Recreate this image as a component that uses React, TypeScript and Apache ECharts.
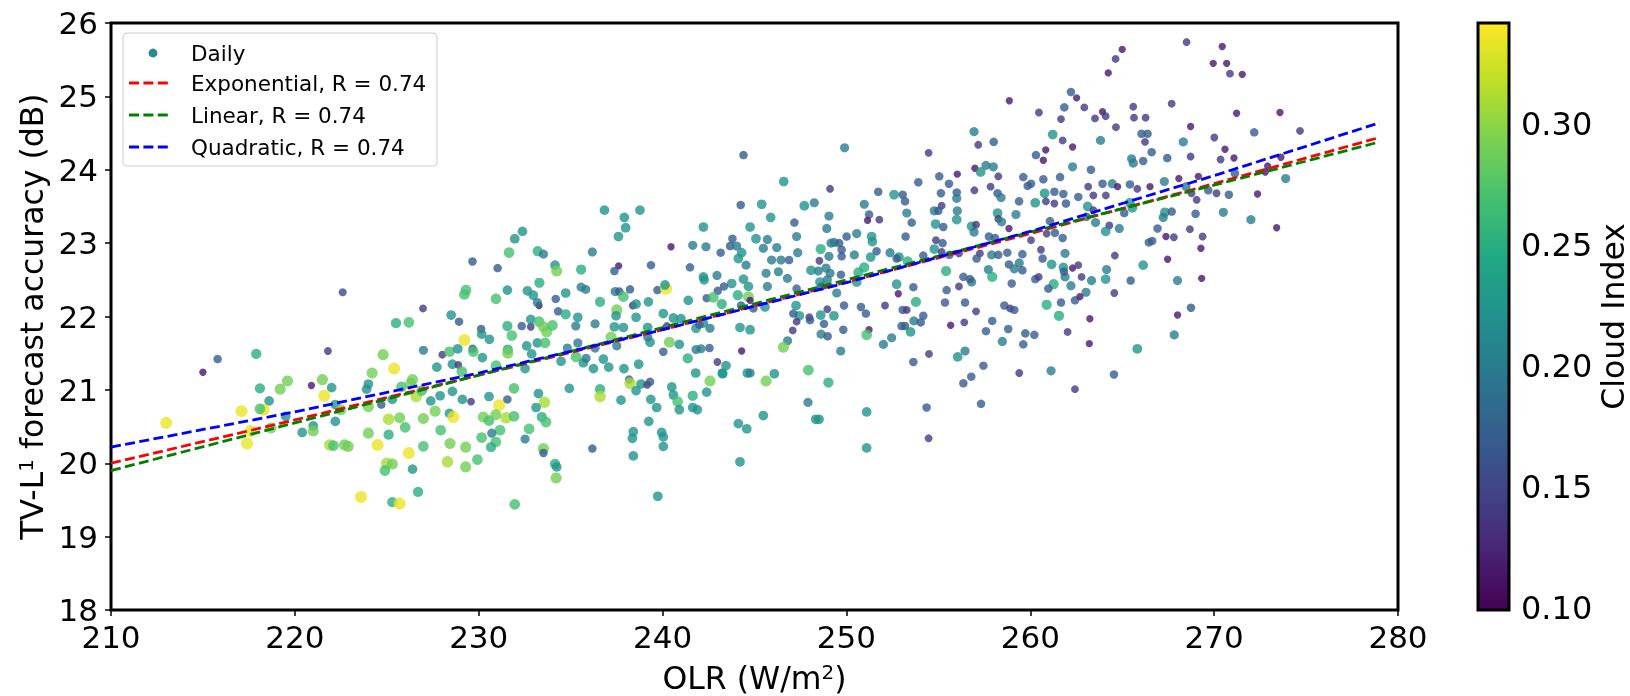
import React, { useEffect, useRef } from 'react';
import * as echarts from 'echarts';

const FONT = 'DejaVu Sans';

// Axis ranges / ticks
const X_MIN = 210;
const X_MAX = 280;
const X_STEP = 10;
const Y_MIN = 18;
const Y_MAX = 26;
const Y_STEP = 1;
const CLOUD_MIN = 0.099;
const CLOUD_MAX = 0.342;
const CLOUD_TICKS = [0.1, 0.15, 0.2, 0.25, 0.3];

// viridis colour scale
const VIRIDIS = ['#440154', '#482475', '#414487', '#355f8d', '#2a788e', '#21918c', '#22a884', '#44bf70', '#7ad151', '#bddf26', '#fde725'];

// Fitted curves
const FIT_X = [210, 220, 230, 240, 250, 260, 270, 279];
const FIT_EXPONENTIAL = [20.0, 20.59, 21.2, 21.82, 22.47, 23.13, 23.81, 24.44];
const FIT_LINEAR = [19.9, 20.55, 21.2, 21.85, 22.5, 23.15, 23.79, 24.38];
const FIT_QUADRATIC = [20.22, 20.7, 21.23, 21.82, 22.46, 23.16, 23.92, 24.64];

// Daily points: [OLR, accuracy, cloud index]
const DAILY: number[][] = [
[215.0,21.24,.115],[215.8,21.42,.17],[217.9,21.49,.25],[218.1,21.02,.25],[218.6,20.85,.225],[219.2,21.01,.29],[219.6,21.12,.29],[217.1,20.71,.335],[218.3,20.73,.335],[218.1,20.74,.27],[213.0,20.55,.335],[217.6,20.44,.335],[218.7,20.48,.29],[217.4,20.27,.335],[219.5,20.64,.225],[220.4,20.42,.225],[221.0,20.51,.225],[221.0,20.44,.29],[221.5,21.14,.29],[221.8,21.53,.14],[220.9,21.06,.115],[222.0,21.03,.225],[221.6,20.92,.335],[222.2,20.80,.225],[222.2,20.57,.225],[222.5,20.73,.29],[221.9,20.25,.31],[222.1,20.24,.27],[222.7,20.25,.29],[222.9,20.23,.29],[224.0,20.41,.29],[224.5,20.25,.335],[225.1,20.60,.31],[225.1,20.39,.25],[225.7,20.62,.29],[226.0,20.49,.27],[226.2,20.14,.335],[226.4,19.92,.225],[225.0,20.00,.31],[225.3,19.99,.29],[224.9,19.90,.27],[223.6,19.54,.335],[225.3,19.47,.25],[225.7,19.45,.335],[226.7,19.61,.25],[224.8,21.48,.29],[224.2,21.23,.29],[225.4,21.29,.335],[225.5,21.91,.25],[226.2,21.92,.27],[224.0,21.08,.225],[223.9,21.01,.225],[224.7,20.80,.17],[225.3,20.87,.225],[225.8,21.04,.27],[226.4,21.14,.29],[226.3,21.09,.29],[226.6,20.91,.31],[226.9,20.99,.27],[224.0,20.77,.29],
[222.6,22.33,.15],[244.4,24.20,.17],
[236.84,23.45,.225],[238.77,23.45,.225],[244.25,23.52,.17],[237.92,23.35,.225],[237.99,23.21,.225],[237.60,23.09,.225],[242.22,23.22,.225],[232.38,23.16,.225],[231.96,23.06,.225],[231.65,22.87,.27],[233.21,22.89,.25],[233.52,22.85,.2],[236.18,22.88,.2],[229.66,22.75,.17],[231.03,22.66,.17],[234.15,22.70,.225],[234.24,22.62,.29],[235.57,22.64,.25],[237.61,22.69,.115],[237.38,22.62,.17],[239.37,22.70,.17],[240.46,22.95,.115],[241.64,22.97,.2],[242.36,22.95,.2],[241.49,22.67,.17],[243.16,22.87,.17],[243.80,23.06,.17],[243.67,22.96,.17],[244.03,22.96,.2],[244.30,22.87,.225],[244.12,22.79,.225],[244.54,22.70,.2],[242.22,22.54,.225],[242.26,22.50,.225],[242.96,22.56,.2],[243.76,22.45,.225],[244.40,22.51,.225],[243.34,22.41,.17],[243.00,22.35,.17],[244.67,22.41,.225],
[229.31,22.36,.27],[229.22,22.30,.27],[230.94,22.24,.27],[231.56,22.36,.225],[232.65,22.35,.225],[232.97,22.29,.225],[233.30,22.46,.25],[233.28,22.15,.115],[233.19,22.19,.2],[234.19,22.24,.17],[234.73,22.32,.225],[235.57,22.40,.2],[235.82,22.37,.2],[236.60,22.20,.25],[237.42,22.34,.2],[237.65,22.34,.17],[237.87,22.27,.27],[238.23,22.37,.17],[238.38,22.15,.14],[238.56,22.17,.225],[239.23,22.20,.225],[239.72,22.36,.17],[240.19,22.38,.335],[240.13,22.43,.225],[241.40,22.22,.225],[242.40,22.25,.17],[242.76,22.26,.27],[243.22,22.17,.25],[244.09,22.29,.25],[244.27,22.15,.17],[244.67,22.27,.29],[244.76,22.22,.115],
[228.50,22.02,.225],[228.93,21.93,.17],[230.13,21.83,.17],[230.16,21.76,.225],[230.58,21.69,.225],[231.80,21.74,.27],[231.56,21.87,.25],[232.34,21.87,.17],[232.83,21.86,.14],[232.83,21.96,.225],[233.28,21.93,.27],[233.52,21.86,.29],[233.70,21.79,.29],[234.01,21.88,.27],[234.32,22.07,.17],[234.73,22.03,.25],[235.28,21.87,.2],[235.39,21.99,.225],[236.33,21.90,.2],[237.51,22.09,.29],[237.47,22.01,.225],[237.38,21.86,.225],[237.87,21.85,.225],[238.56,21.99,.225],[239.19,21.85,.225],[240.04,22.04,.225],[240.23,21.87,.14],[240.59,21.98,.225],[241.00,21.97,.225],[242.22,21.91,.225],[241.82,21.84,.225],[242.00,21.89,.17],[242.58,21.84,.2],[244.21,21.85,.225],[244.76,21.82,.225],
[226.97,22.11,.14],[226.99,21.54,.2],[228.02,21.48,.14],[228.41,21.52,.27],[228.86,21.56,.225],[229.22,21.68,.335],[229.67,21.56,.17],[229.71,21.52,.27],[230.20,21.44,.225],[231.58,21.55,.25],[231.58,21.50,.29],[232.61,21.60,.225],[232.88,21.49,.225],[233.19,21.64,.225],[233.61,21.64,.27],[234.82,21.57,.2],[235.39,21.64,.2],[235.29,21.45,.27],[235.69,21.37,.225],[235.84,21.43,.2],[236.24,21.29,.225],[236.33,21.57,.2],[236.78,21.42,.225],[237.07,21.31,.225],[237.20,21.72,.29],[237.51,21.60,.2],[237.90,21.29,.225],[238.70,21.35,.225],[239.32,21.65,.225],[239.19,21.72,.2],[240.04,21.52,.17],[240.37,21.65,.29],[240.91,21.62,.225],[241.37,21.43,.25],[241.82,21.55,.2],[242.09,21.56,.2],[242.55,21.57,.17],[242.98,21.38,.14],[243.45,21.33,.225],[243.27,21.22,.225],[244.30,21.53,.115],[244.61,21.23,.225],
[227.72,21.31,.225],[228.57,21.35,.225],[228.89,21.34,.14],[229.08,21.25,.27],[230.94,21.33,.27],[232.52,21.29,.225],[234.48,21.39,.225],[234.93,21.02,.225],[236.60,21.01,.25],[236.60,20.91,.31],[237.74,20.86,.225],[238.18,21.14,.17],[238.23,21.09,.31],[238.56,20.99,.225],[238.83,21.08,.225],[239.17,21.07,.14],[239.32,21.11,.17],[239.36,20.87,.225],[239.68,20.76,.225],[240.50,21.04,.225],[240.59,20.93,.225],[240.82,20.84,.27],[240.91,20.73,.225],[241.64,20.92,.25],[241.64,20.76,.225],[241.89,20.73,.225],[241.80,21.23,.225],[242.40,20.97,.225],[242.58,21.12,.29],[243.25,21.23,.225],
[227.39,20.85,.225],[227.90,20.92,.225],[228.57,20.98,.225],[229.11,20.87,.225],[229.58,20.84,.14],[230.56,20.91,.225],[231.11,20.79,.335],[231.56,20.87,.17],[231.92,21.02,.27],[233.25,20.95,.225],[233.57,20.83,.31],[233.12,20.76,.225],[227.63,20.71,.29],[226.99,20.61,.29],[228.41,20.68,.225],[228.62,20.63,.335],[230.25,20.63,.29],[230.56,20.58,.27],[230.93,20.66,.29],[231.49,20.62,.31],[231.92,20.64,.27],[233.43,20.63,.25],[233.66,20.56,.27],[231.16,20.45,.27],[230.71,20.41,.2],[230.16,20.35,.27],[230.93,20.29,.27],[230.67,20.22,.25],[227.93,20.45,.27],[228.44,20.27,.29],[229.29,20.22,.29],[226.99,20.23,.27],[232.52,20.33,.2],[232.74,20.47,.27],[233.52,20.20,.29],[233.52,20.14,.17],[228.30,20.02,.31],[229.29,19.95,.29],[229.93,20.05,.27],[234.15,19.99,.25],[234.24,19.95,.225],[234.21,19.80,.29],[236.18,20.20,.17],[238.41,20.43,.225],[238.36,20.34,.225],[238.41,20.10,.225],[239.25,20.57,.225],[239.95,20.42,.225],[240.04,20.36,.225],[240.04,20.23,.225],[244.12,20.54,.225],[244.58,20.47,.225],[244.21,20.02,.225],[239.74,19.55,.225],[231.96,19.44,.27],
[262.21,25.06,.17],[262.52,24.98,.115],[258.86,24.94,.115],[261.85,24.85,.17],[260.47,24.78,.14],[261.67,24.69,.14],[261.22,24.48,.225],[256.94,24.52,.2],[261.76,24.40,.14],[257.17,24.34,.14],[258.01,24.38,.17],[262.30,24.31,.115],[260.84,24.27,.115],[260.31,24.20,.17],[260.71,24.13,.115],[249.90,24.30,.2],[254.47,24.23,.14],[262.30,24.04,.2],[256.99,24.02,.115],[257.59,24.06,.2],[257.99,24.04,.2],[257.30,23.97,.225],[258.26,23.91,.14],[256.03,23.94,.115],[255.05,23.91,.17],[259.62,23.90,.17],[260.71,23.87,.17],[261.62,23.90,.17],[260.04,23.81,.17],[259.86,23.78,.17],[257.84,23.77,.14],[253.91,23.83,.17],[255.58,23.81,.17],[249.11,23.74,.14],[251.73,23.70,.17],[246.59,23.84,.225],
[255.14,23.68,.17],[256.00,23.69,.17],[256.96,23.72,.14],[258.22,23.68,.17],[258.41,23.62,.2],[260.78,23.68,.225],[261.31,23.70,.17],[261.80,23.67,.17],[262.61,23.63,.17],[252.59,23.66,.225],[253.06,23.66,.17],[253.19,23.57,.17],[256.00,23.61,.2],[259.39,23.57,.17],[260.27,23.55,.225],[260.85,23.57,.14],[261.31,23.54,.14],[261.94,23.54,.17],[245.39,23.53,.225],[247.71,23.51,.225],[248.25,23.55,.2],[250.97,23.53,.2],[253.28,23.41,.2],[255.18,23.51,.14],[254.78,23.44,.2],[255.00,23.44,.17],[256.03,23.44,.2],[258.22,23.41,.225],[259.22,23.39,.2],
[245.88,23.35,.225],[249.05,23.37,.2],[251.23,23.39,.17],[251.15,23.31,.115],[251.79,23.32,.14],[253.55,23.28,.17],[256.00,23.32,.225],[258.26,23.33,.14],[258.44,23.29,.2],[256.81,23.23,.225],[257.05,23.25,.14],[256.94,23.15,.2],[254.85,23.26,.225],[255.27,23.22,.17],[258.84,23.20,.115],[261.07,23.30,.17],[247.17,23.28,.17],[244.76,23.22,.225],[248.93,23.20,.2],
[245.08,23.06,.225],[245.70,23.05,.2],[247.29,23.09,.2],[250.56,23.13,.2],[250.01,23.09,.17],[251.37,23.09,.225],[251.41,23.02,.225],[253.22,23.09,.17],[254.87,23.04,.14],[255.23,23.00,.17],[257.75,23.09,.17],[258.08,23.07,.17],[260.04,23.04,.14],[260.89,23.13,.14],[261.34,23.14,.17],[261.76,23.07,.17],
[245.48,22.93,.2],[246.21,22.94,.2],[248.60,22.92,.25],[249.16,23.00,.2],[249.34,23.01,.2],[249.61,23.00,.17],[249.74,22.91,.17],[250.43,22.84,.2],[251.64,22.89,.17],[252.37,22.87,.2],[252.86,22.81,.225],[253.33,22.75,.25],[254.18,22.83,.17],[254.78,22.92,.225],[255.18,22.88,.14],[255.60,22.84,.17],[256.12,22.86,.14],[257.26,22.86,.14],[257.90,22.84,.2],[258.26,22.84,.17],[258.75,22.87,.17],[259.57,22.85,.17],[260.58,22.91,.14],[261.89,22.86,.2],
[245.93,22.77,.2],[246.44,22.77,.2],[246.88,22.77,.17],[247.35,22.87,.2],[248.53,22.76,.14],[249.05,22.82,.2],[249.74,22.82,.17],[251.32,22.81,.225],[252.73,22.79,.17],[257.08,22.79,.17],[258.84,22.71,.17],[259.40,22.73,.2],[259.57,22.63,.17],[259.13,22.65,.2],[260.67,22.79,.17],[261.16,22.71,.225],[261.80,22.67,.225],[262.30,22.66,.115],[262.61,22.70,.14],
[245.63,22.59,.2],[246.30,22.61,.2],[246.79,22.52,.2],[248.07,22.63,.225],[248.47,22.62,.2],[248.89,22.66,.2],[249.11,22.59,.2],[249.70,22.57,.17],[250.65,22.60,.25],[250.97,22.67,.25],[255.42,22.62,.25],[256.36,22.54,.17],[257.72,22.64,.2],[257.93,22.54,.25],[256.81,22.47,.2],[256.72,22.51,.17],[260.27,22.51,.17],[260.46,22.54,.14],[261.89,22.54,.2],[261.83,22.61,.17],[258.99,22.45,.17],[261.27,22.44,.25],[260.98,22.38,.17],[262.21,22.42,.2],[245.70,22.41,.2],[247.29,22.38,.17],[248.56,22.47,.225],[248.96,22.50,.2],[248.65,22.41,.17],[250.56,22.47,.225],[252.73,22.44,.225],[253.64,22.40,.17],[256.12,22.41,.14],
[249.47,22.32,.2],[252.82,22.31,.115],[255.45,22.36,.17],[262.43,22.22,.17],[261.67,22.19,.17],[260.89,22.16,.25],[261.56,22.01,.25],[253.78,22.20,.25],[255.36,22.19,.17],[256.45,22.19,.17],[252.10,22.15,.14],[250.79,22.13,.17],[251.06,22.04,.17],[249.87,22.15,.17],[248.96,22.10,.14],[248.60,22.02,.225],[249.32,22.01,.225],[247.98,21.99,.14],[248.02,21.95,.17],[247.44,22.01,.225],[247.26,22.15,.225],[247.11,22.04,.17],[247.29,21.93,.14],[245.57,22.13,.225],[244.94,22.11,.17],
[248.78,21.90,.17],[249.83,21.82,.17],[248.62,21.76,.2],[248.98,21.73,.17],[251.23,21.82,.115],[251.10,21.75,.27],[253.06,22.09,.17],[253.28,22.09,.14],[253.00,21.87,.17],[253.19,21.87,.17],[253.49,21.79,.225],[253.67,21.94,.2],[254.04,21.92,.17],[254.18,22.01,.17],[252.01,21.62,.2],[252.46,21.71,.2],[255.67,21.88,.115],[256.41,21.92,.14],[257.05,22.07,.14],[257.93,21.94,.17],[257.59,21.80,.17],[258.80,21.83,.17],[258.59,22.15,.17],[258.90,22.11,.14],[259.13,22.09,.17],[258.48,21.66,.2],[259.73,21.77,.17],[260.22,21.75,.17],[259.62,21.62,.17],[262.03,21.79,.14],
[247.08,21.81,.14],[246.80,21.67,.2],[246.57,21.58,.29],[249.69,21.53,.2],[254.49,21.49,.14],[253.64,21.38,.17],[256.05,21.45,.225],[256.45,21.53,.2],[257.45,21.33,.17],[256.79,21.18,.17],[256.36,21.09,.17],[259.40,21.23,.14],[261.13,21.26,.2],[262.43,21.01,.14],[244.76,21.23,.2],[246.08,21.22,.225],[245.63,21.12,.29],[247.93,21.27,.27],[249.02,21.10,.25],[247.91,20.83,.2],[245.48,20.65,.225],[248.33,20.60,.225],[248.51,20.60,.225],[251.10,20.70,.225],[251.10,20.21,.225],[254.36,20.76,.17],[254.47,20.34,.14],[257.32,20.81,.17],
[268.50,25.74,.14],[270.44,25.68,.115],[265.00,25.64,.115],[264.64,25.51,.14],[269.95,25.45,.115],[270.68,25.45,.115],[264.24,25.32,.115],[270.86,25.31,.14],[271.53,25.30,.115],[262.94,24.85,.14],[263.52,24.70,.14],[263.93,24.79,.115],[264.10,24.73,.14],[265.60,24.86,.14],[265.64,24.71,.14],[266.27,24.71,.14],[267.69,24.90,.14],[271.22,24.77,.115],[273.58,24.78,.115],[264.66,24.58,.14],[268.72,24.59,.115],[272.18,24.51,.17],[274.67,24.53,.14],[266.05,24.49,.17],[266.38,24.49,.17],[266.24,24.38,.14],[263.82,24.40,.2],[268.32,24.38,.2],[270.01,24.44,.14],[266.60,24.24,.17],[270.59,24.28,.115],
[265.51,24.15,.2],[265.60,24.09,.2],[266.14,24.12,.17],[267.45,24.16,.17],[268.72,24.18,.14],[270.35,24.14,.14],[271.08,24.16,.115],[273.63,24.17,.115],[263.30,24.00,.17],[271.13,23.95,.17],[272.91,24.05,.115],[272.78,23.97,.115],[268.08,23.88,.115],[269.14,23.91,.115],[267.29,23.84,.2],[273.89,23.88,.2],[264.46,23.81,.2],[263.93,23.81,.17],[264.75,23.77,.115],[265.42,23.80,.17],[265.82,23.74,.14],[266.51,23.77,.115],[263.15,23.77,.14],[263.43,23.65,.14],[264.11,23.65,.14],[268.47,23.77,.2],[268.77,23.68,.14],[269.05,23.59,.14],[269.68,23.72,.17],[270.13,23.68,.14],[270.80,23.66,.17],[272.36,23.67,.115],
[263.12,23.50,.225],[263.43,23.45,.14],[265.42,23.55,.225],[265.55,23.48,.225],[265.11,23.41,.17],[267.32,23.42,.225],[267.23,23.35,.2],[267.69,23.43,.17],[268.99,23.40,.17],[270.50,23.42,.2],[272.00,23.32,.2],[263.55,23.28,.2],[263.06,23.36,.17],[264.30,23.24,.14],[264.84,23.20,.2],[264.10,23.16,.225],[266.92,23.20,.17],[267.38,23.09,.115],[267.81,23.08,.14],[268.68,23.19,.14],[269.37,23.09,.14],[273.40,23.21,.115],[266.63,23.03,.17],[266.45,23.01,.17],[269.28,22.93,.115],[264.60,22.83,.14],[267.47,22.78,.115],[266.14,22.70,.225],[264.15,22.64,.2],
[262.79,22.54,.14],[263.33,22.49,.2],[264.10,22.51,.225],[265.46,22.49,.17],[268.01,22.49,.2],[269.32,22.52,.115],[263.03,22.33,.2],[264.57,22.32,.14],[262.70,22.27,.115],[268.74,22.12,.17],[268.01,22.02,.115],[263.24,21.97,.115],[267.83,21.75,.2],[263.21,21.63,.115],[265.82,21.56,.225],[264.55,21.21,.17]
];

const TICK_FONT = 31;
const CB_TICK_FONT = 32;
const TITLE_FONT = 31.5;
const LEGEND_FONT = 21.5;

const titleRich = {
  t: { fontSize: TITLE_FONT, fontFamily: FONT, color: '#000' },
  sup: { fontSize: 20, fontFamily: FONT, color: '#000', verticalAlign: 'top' },
};

export default function App() {
  const ref = useRef<HTMLDivElement>(null);
  useEffect(() => {
    if (!ref.current) return;
    const chart = echarts.init(ref.current, undefined, { renderer: 'svg' });
    const stops = VIRIDIS.map((c, i) => ({ offset: i / (VIRIDIS.length - 1), color: c }));
    const fitLine = (name: string, ys: number[], color: string) => ({
      name,
      type: 'line',
      data: FIT_X.map((x, i) => [x, ys[i]]),
      showSymbol: false,
      symbol: 'none',
      silent: true,
      z: 3,
      lineStyle: { color, width: 2.8, type: [10, 4.4] },
    });
    const legendRow = (y: number, text: string) => ({
      type: 'text', x: 191, y,
      style: { text, font: `${LEGEND_FONT}px "${FONT}"`, fill: '#000', verticalAlign: 'middle', align: 'left' },
      z: 10,
    });
    const legendLine = (y: number, color: string) => ({
      type: 'line',
      shape: { x1: 129, y1: y, x2: 170, y2: y },
      style: { stroke: color, lineWidth: 2.8, lineDash: [10, 4.4] },
      z: 10,
    });
    chart.setOption({
      animation: false,
      textStyle: { fontFamily: FONT, color: '#000' },
      grid: [
        { left: 111, top: 23, width: 1287, height: 587, outerBoundsMode: 'none', containLabel: false, show: true, borderColor: '#000', borderWidth: 3, backgroundColor: 'transparent' },
        { left: 1478, top: 23, width: 31, height: 587, outerBoundsMode: 'none', containLabel: false },
      ],
      xAxis: [
        {
          gridIndex: 0, type: 'value', min: X_MIN, max: X_MAX, interval: X_STEP,
          name: '{t|OLR (W/m}{sup|2}{t|)}', nameLocation: 'middle', nameGap: 52,
          nameTextStyle: { fontSize: TITLE_FONT, color: '#000', fontFamily: FONT, rich: titleRich },
          axisLine: { show: false },
          axisTick: { show: true, inside: false, length: 6, lineStyle: { color: '#000', width: 1.5 } },
          axisLabel: { fontSize: TICK_FONT, color: '#000', margin: 11, fontFamily: FONT },
          splitLine: { show: false },
        },
        { gridIndex: 1, type: 'value', min: 0, max: 1, show: false },
      ],
      yAxis: [
        {
          gridIndex: 0, type: 'value', min: Y_MIN, max: Y_MAX, interval: Y_STEP,
          name: '{t|TV-L}{sup|1}{t| forecast accuracy (dB)}', nameLocation: 'middle', nameGap: 62, nameRotate: 90,
          nameTextStyle: { fontSize: TITLE_FONT, color: '#000', fontFamily: FONT, rich: titleRich },
          axisLine: { show: false },
          axisTick: { show: true, inside: false, length: 6, lineStyle: { color: '#000', width: 1.5 } },
          axisLabel: { fontSize: TICK_FONT, color: '#000', margin: 13, fontFamily: FONT },
          splitLine: { show: false },
        },
        {
          gridIndex: 1, type: 'value', position: 'right', min: CLOUD_MIN, max: CLOUD_MAX,
          name: 'Cloud Index', nameLocation: 'middle', nameGap: 88, nameRotate: 90,
          nameTextStyle: { fontSize: TITLE_FONT, color: '#000', fontFamily: FONT },
          axisLine: { show: false },
          axisTick: { show: true, inside: false, length: 6, customValues: CLOUD_TICKS, lineStyle: { color: '#000', width: 1.5 } },
          axisLabel: { fontSize: CB_TICK_FONT, color: '#000', margin: 12, fontFamily: FONT, customValues: CLOUD_TICKS, formatter: (v: number) => v.toFixed(2) },
          splitLine: { show: false },
        },
      ],
      visualMap: [
        {
          type: 'continuous', show: false, seriesIndex: 0, dimension: 2,
          min: CLOUD_MIN, max: CLOUD_MAX,
          inRange: { color: VIRIDIS, symbolSize: [7, 12.2] },
        },
      ],
      series: [
        { name: 'Daily', type: 'scatter', data: DAILY, symbol: 'circle', z: 2, silent: true },
        fitLine('Exponential, R = 0.74', FIT_EXPONENTIAL, '#ff0000'),
        fitLine('Linear, R = 0.74', FIT_LINEAR, '#008000'),
        fitLine('Quadratic, R = 0.74', FIT_QUADRATIC, '#0000ff'),
        {
          name: 'colorbar', type: 'custom', xAxisIndex: 1, yAxisIndex: 1, silent: true,
          data: [[0, CLOUD_MIN, CLOUD_MAX]],
          renderItem: (_p: any, api: any) => {
            const a = api.coord([0, CLOUD_MAX]);
            const b = api.coord([1, CLOUD_MIN]);
            return {
              type: 'rect',
              shape: { x: a[0], y: a[1], width: b[0] - a[0], height: b[1] - a[1] },
              style: { fill: new echarts.graphic.LinearGradient(0, 1, 0, 0, stops), stroke: '#000', lineWidth: 3 },
            };
          },
        },
      ],
      graphic: [
        { type: 'rect', shape: { x: 123, y: 33, width: 314, height: 133, r: 4 }, style: { fill: 'rgba(255,255,255,0.8)', stroke: '#cccccc', lineWidth: 1 }, z: 9 },
        { type: 'circle', shape: { cx: 153, cy: 53, r: 4.4 }, style: { fill: '#2a8b8c' }, z: 10 },
        legendLine(83, '#ff0000'),
        legendLine(115, '#008000'),
        legendLine(147, '#0000ff'),
        legendRow(53, 'Daily'),
        legendRow(83, 'Exponential, R = 0.74'),
        legendRow(115, 'Linear, R = 0.74'),
        legendRow(147, 'Quadratic, R = 0.74'),
      ],
    });
    return () => chart.dispose();
  }, []);
  return <div ref={ref} style={{ position: 'fixed', left: 0, top: 0, width: 1630, height: 696 }} />;
}
